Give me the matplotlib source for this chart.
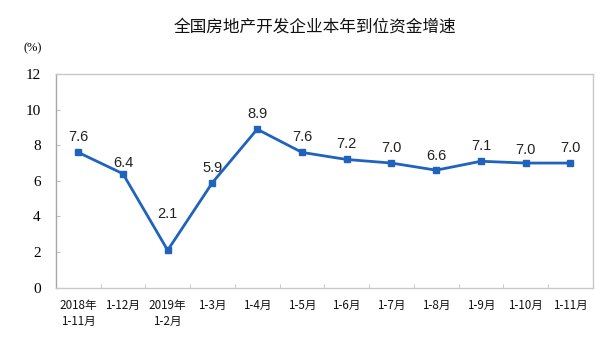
import matplotlib
matplotlib.use("Agg")
import matplotlib.pyplot as plt
from matplotlib.ticker import FixedLocator

plt.rcParams['font.family'] = ['Noto Sans CJK SC', 'DejaVu Sans']

categories = ["2018年\n1-11月", "1-12月", "2019年\n1-2月", "1-3月", "1-4月", "1-5月",
              "1-6月", "1-7月", "1-8月", "1-9月", "1-10月", "1-11月"]
values = [7.6, 6.4, 2.1, 5.9, 8.9, 7.6, 7.2, 7.0, 6.6, 7.1, 7.0, 7.0]
yticks = [0, 2, 4, 6, 8, 10, 12]
# label offsets above each point, in pixels
label_offsets = [15, 11, 36, 15, 15, 15, 15, 15, 14, 15, 13, 15]

fig = plt.figure(figsize=(6, 3.56), dpi=100)
ax = fig.add_axes([0.093, 0.192, 0.895, 0.600])

x = list(range(len(values)))
color = '#1f63be'
ax.plot(x, values, color=color, lw=2, marker='s', ms=5, mfc=color, mec=color)

for xi, v, off in zip(x, values, label_offsets):
    ax.annotate(f"{v:.1f}", (xi, v), xytext=(0, off), textcoords='offset pixels',
                ha='center', va='center', fontsize=10.5,
                family='Liberation Sans', color='#222222')

ax.set_xlim(-0.5, len(values) - 0.5)
ax.set_ylim(0, 12)
ax.set_yticks(yticks)
ax.set_yticklabels([str(t) for t in yticks], family='Liberation Serif', fontsize=11)
ax.set_xticks(x)
ax.set_xticklabels(categories, fontsize=8.4, linespacing=1.3, va='top', color='#111111')
ax.xaxis.set_minor_locator(FixedLocator([i + 0.5 for i in range(len(values) - 1)]))
ax.tick_params(axis='x', which='major', length=0, pad=8)
ax.tick_params(axis='x', which='minor', length=3, direction='in', color='#bfbfbf')
ax.tick_params(axis='y', length=3, direction='in', color='#bfbfbf', pad=11)
for s in ax.spines.values():
    s.set_color('#c8c8c8')
    s.set_linewidth(1)
ax.spines['left'].set_color('#a8a8a8')

for lbl in ax.get_xticklabels():
    lbl.set_horizontalalignment('center')
    lbl.set_multialignment('center')

fig.text(0.525, 0.925, "全国房地产开发企业本年到位资金增速", ha='center', va='center',
         fontsize=12, color='#111111')
fig.text(0.055, 0.865, "(%)", ha='center', va='center', fontsize=9, family='Liberation Serif')

fig.savefig("out.png", dpi=100)
